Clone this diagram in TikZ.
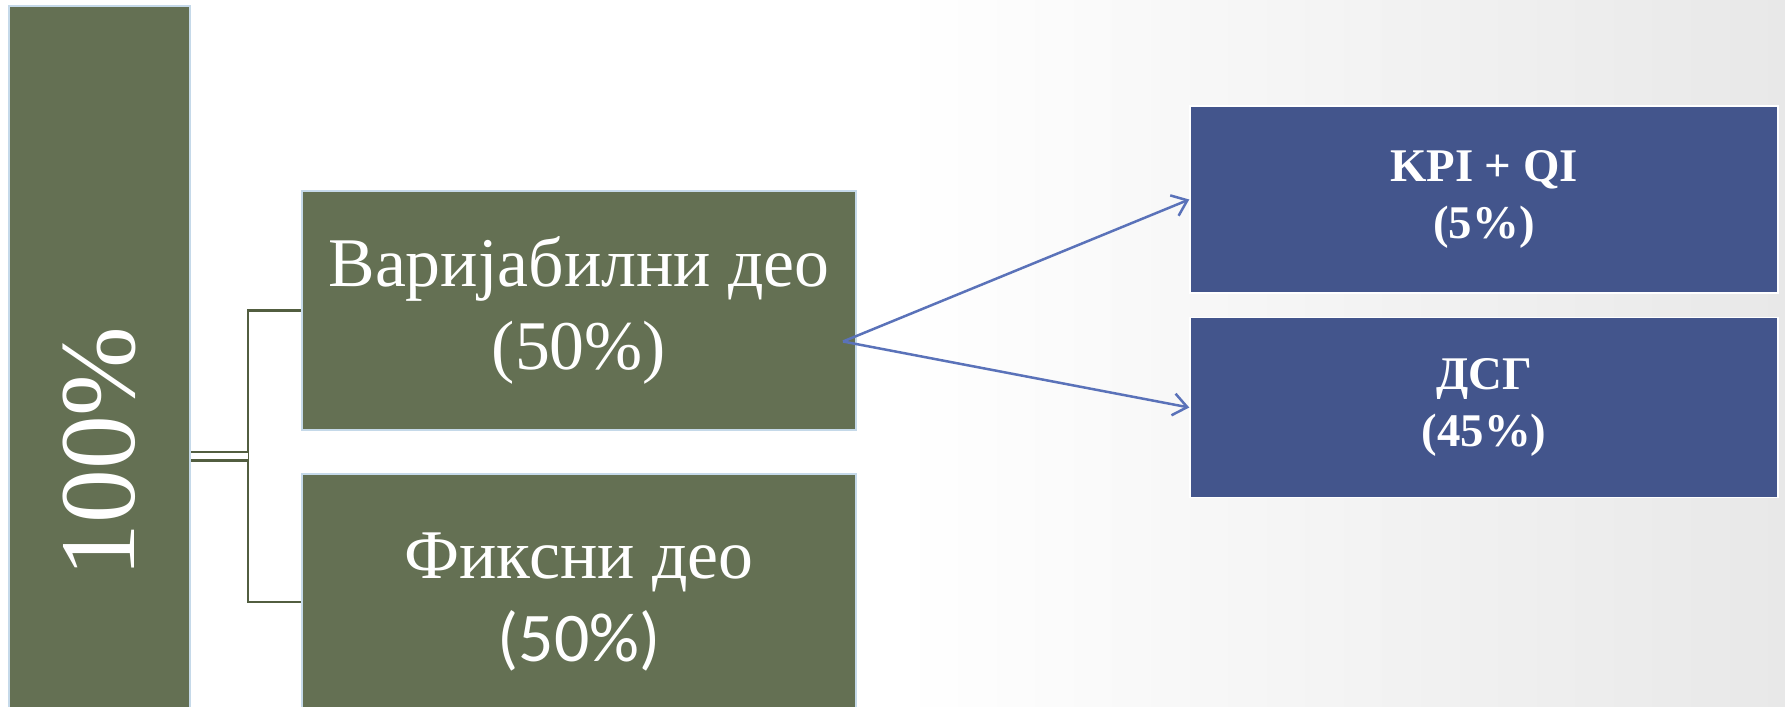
\documentclass[tikz,border=0pt]{standalone}
\usepackage{fontspec}
\setmainfont{Liberation Serif}
\newfontfamily\calib{Carlito}
\usepackage{tikz}
\usetikzlibrary{positioning,calc,arrows.meta}
\definecolor{olivebox}{HTML}{647053}
\definecolor{bluebox}{HTML}{43558C}
\definecolor{edgeblue}{HTML}{C5D9E9}
\definecolor{linkgreen}{HTML}{525E40}
\definecolor{arrowblue}{HTML}{5A72B9}
\tikzset{
  gr/.style={rectangle, minimum width=554bp, text centered, align=center, inner sep=0pt, draw=edgeblue, line width=2bp, fill=olivebox, text=white, font=\fontsize{70}{84}\selectfont},
  bl/.style={rectangle, minimum width=588bp, text centered, align=center, inner sep=0pt, draw=white, line width=1.5bp, fill=bluebox, text=white, font=\bfseries\fontsize{47}{57}\selectfont},
  ln/.style={draw=linkgreen, line width=2.5bp},
  ar/.style={draw=arrowblue, line width=2.5bp, -{Straight Barb[length=14bp,width=22bp,line width=2.5bp]}}
}
\begin{document}
\begin{tikzpicture}[x=1bp, y=-1bp]
	\useasboundingbox (0,0) rectangle (1785,707);
	\clip (0,0) rectangle (1785,707);
	\fill[white] (0,0) rectangle (1785,707);
	\shade[left color=white, right color=black!9] (900,0) rectangle (1785,707);
	%
	\node[gr, minimum width=181bp, minimum height=892bp] (full) at (99.5,452) {\fontsize{108}{108}\selectfont\rotatebox{90}{100\%}};
	\node[gr, minimum height=239bp] (var) at (579,310.5) {Варијабилни део\\(50\%)};
	\node[gr, minimum height=256bp, below=42bp of var] (fix) {Фиксни део\\{\calib (50\%)}};
	\node[bl, minimum height=187bp] (kpi) at (1484,199.5) {KPI + QI\\(5\%)};
	\node[bl, minimum height=180bp, below=23bp of kpi] (dsg) {ДСГ\\(45\%)};
	%
	\draw[ln] (var.west) -- ++(-53,0) coordinate (fork) |- (fix.west);
	\coordinate (join) at ($(fork)!0.5!(fork |- fix.west)$);
	\draw[ln, double=white, double distance=6bp] (full.east |- join) -- (join);
	\coordinate (split) at ($(var.east)+(-14,31)$);
	\draw[ar] (split) -- (kpi.west);
	\draw[ar] (split) -- (dsg.west);
\end{tikzpicture}
\end{document}
